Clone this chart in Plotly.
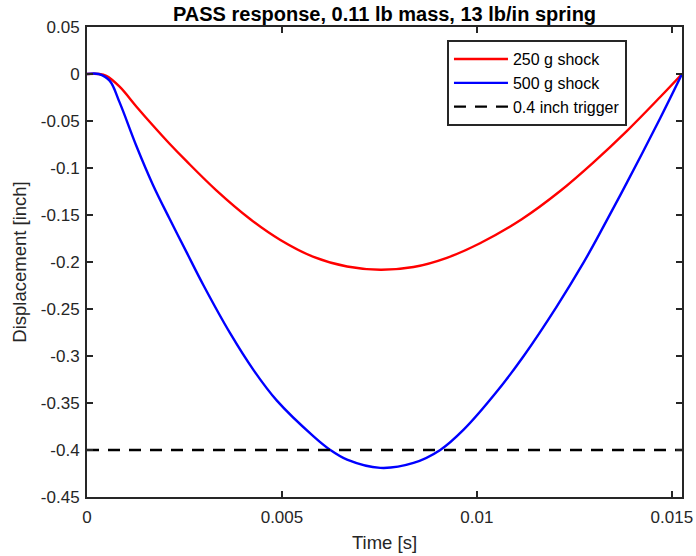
import plotly.graph_objects as go

# ---- data ----
t_250 = [0, 0.0003, 0.000495, 0.000836, 0.001264, 0.001692, 0.002118, 0.002546,
         0.00331, 0.00419, 0.00496, 0.00581, 0.00667, 0.00752, 0.008374, 0.00923,
         0.01008, 0.01115, 0.012136, 0.01299, 0.01385, 0.0147, 0.01526]
d_250 = [0, 0, -0.002, -0.0135, -0.0345, -0.0548, -0.0742, -0.0925,
         -0.1235, -0.1545, -0.1765, -0.1945, -0.2048, -0.2082, -0.2053, -0.1955,
         -0.180, -0.1545, -0.1245, -0.094, -0.0605, -0.0245, 0]

t_500 = [0, 0.0003, 0.00058, 0.000836, 0.001264, 0.001692, 0.002118, 0.002546,
         0.00299, 0.003674, 0.004272, 0.00487, 0.00581, 0.00624, 0.00667, 0.00752,
         0.008374, 0.00906, 0.00966, 0.01047, 0.0112, 0.01205, 0.01273, 0.01312,
         0.01385, 0.0147, 0.01526]
d_500 = [0, 0, -0.0071, -0.0302, -0.0763, -0.1180, -0.1540, -0.1890,
         -0.2250, -0.2760, -0.3150, -0.3475, -0.3855, -0.400, -0.4103, -0.419,
         -0.4138, -0.400, -0.3784, -0.340, -0.300, -0.2472, -0.201, -0.172,
         -0.1153, -0.047, 0]

t_trigger = [0, 0.01526]
d_trigger = [-0.4, -0.4]

series_names = ["250 g shock", "500 g shock", "0.4 inch trigger"]

x_ticks = [0, 0.005, 0.01, 0.015]
x_tick_labels = ["0", "0.005", "0.01", "0.015"]
y_ticks = [-0.45, -0.4, -0.35, -0.3, -0.25, -0.2, -0.15, -0.1, -0.05, 0, 0.05]
y_tick_labels = ["-0.45", "-0.4", "-0.35", "-0.3", "-0.25", "-0.2", "-0.15",
                 "-0.1", "-0.05", "0", "0.05"]

title_text = "PASS response, 0.11 lb mass, 13 lb/in spring"
x_title = "Time [s]"
y_title = "Displacement [inch]"

# ---- figure ----
FONT = "Liberation Sans, Arial, Helvetica, sans-serif"
AX = "#262626"

fig = go.Figure()
fig.add_trace(go.Scatter(x=t_250, y=d_250, mode="lines", name=series_names[0],
                         line=dict(color="#ff0000", width=2.4, shape="spline", smoothing=1.0)))
fig.add_trace(go.Scatter(x=t_500, y=d_500, mode="lines", name=series_names[1],
                         line=dict(color="#0000ff", width=2.4, shape="spline", smoothing=1.0)))
fig.add_trace(go.Scatter(x=t_trigger, y=d_trigger, mode="lines", name=series_names[2],
                         line=dict(color="#000000", width=2.4, dash="12px,9px")))

axis_common = dict(
    showgrid=False, zeroline=False, showline=True, linecolor=AX, linewidth=2,
    mirror="ticks", ticks="inside", ticklen=6, tickwidth=2, tickcolor=AX,
    tickfont=dict(family=FONT, size=17, color=AX), automargin=False,
)

fig.update_layout(
    width=696, height=556,
    margin=dict(l=87, r=14, t=27, b=59),
    paper_bgcolor="white", plot_bgcolor="white",
    font=dict(family=FONT, color=AX),
    title=dict(text="<b>" + title_text + "</b>", x=0.5, xref="paper", xanchor="center",
               y=1 - 14 / 556, yref="container", yanchor="middle",
               font=dict(family=FONT, size=20, color="#000000")),
    xaxis=dict(range=[0, 0.01526], tickvals=x_ticks, ticktext=x_tick_labels,
               ticklabelstandoff=4,
               title=dict(text=x_title, font=dict(family=FONT, size=18.5, color=AX), standoff=10),
               **axis_common),
    yaxis=dict(range=[-0.45, 0.05], tickvals=y_ticks, ticktext=y_tick_labels,
               ticklabelstandoff=2,
               title=dict(text=y_title, font=dict(family=FONT, size=18.5, color=AX), standoff=9),
               **axis_common),
    legend=dict(x=0.605, y=0.972, xanchor="left", yanchor="top",
                bgcolor="white", bordercolor=AX, borderwidth=2,
                font=dict(family=FONT, size=16, color="#000000"),
                itemwidth=54, tracegroupgap=0),
    showlegend=True,
)

fig.write_html("out.html", config={"displayModeBar": False},
               post_script="document.body.style.margin='0';document.body.style.padding='0';")
